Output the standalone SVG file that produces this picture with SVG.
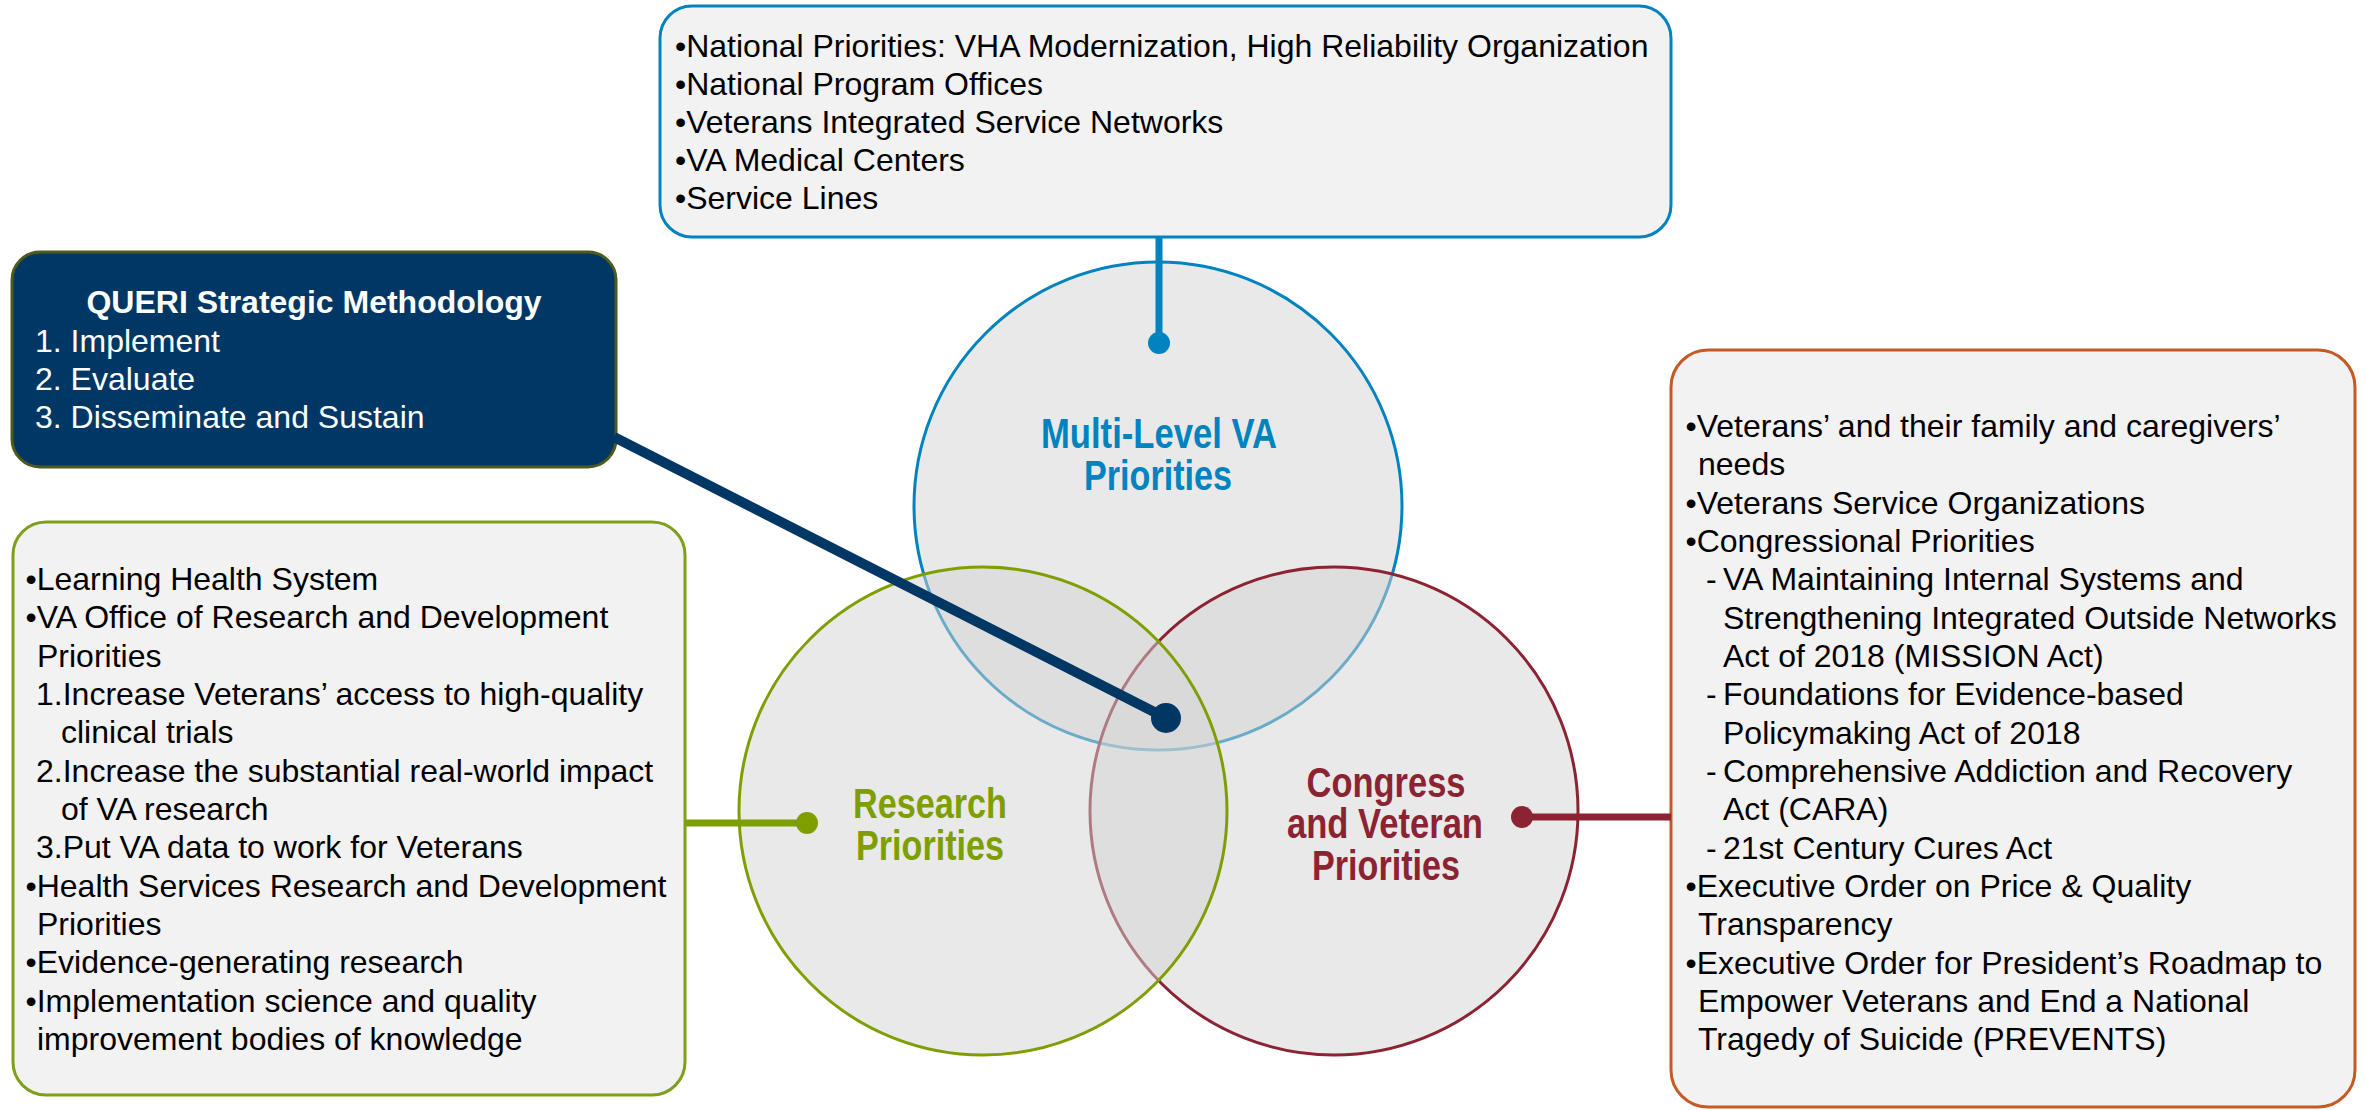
<svg xmlns="http://www.w3.org/2000/svg" width="2366" height="1110" viewBox="0 0 2366 1110">
<style>
.body{font-family:"Liberation Sans",Arial,sans-serif;font-size:32px;fill:#000}
.box{fill:#F2F2F2;stroke-width:3}
.circ{fill:#D4D4D4;fill-opacity:0.5;stroke-width:3}
.lbl{font-family:"Liberation Sans Narrow","Arial Narrow","Liberation Sans",Arial,sans-serif;font-weight:bold;font-size:42px;text-anchor:middle}
</style>
<rect width="2366" height="1110" fill="#FFFFFF"/>

<g id="node-national">
<rect class="box" x="660" y="6" width="1011" height="231" rx="32" ry="32" stroke="#0083BF"/>
<text class="body">
<tspan x="675" y="57">•National Priorities: VHA Modernization, High Reliability Organization</tspan>
<tspan x="675" y="95">•National Program Offices</tspan>
<tspan x="675" y="133">•Veterans Integrated Service Networks</tspan>
<tspan x="675" y="171">•VA Medical Centers</tspan>
<tspan x="675" y="209">•Service Lines</tspan>
</text>
</g>

<g id="node-queri">
<rect x="12" y="252" width="604" height="215" rx="28" ry="28" fill="#003764" stroke="#4F5B1B" stroke-width="3"/>
<text x="314" y="313" font-family="'Liberation Sans',Arial,sans-serif" font-size="32" font-weight="bold" fill="#FFFFFF" text-anchor="middle">QUERI Strategic Methodology</text>
<text class="body" style="fill:#FFFFFF">
<tspan x="35" y="352">1. Implement</tspan>
<tspan x="35" y="390">2. Evaluate</tspan>
<tspan x="35" y="428">3. Disseminate and Sustain</tspan>
</text>
</g>

<g id="node-research-box">
<rect class="box" x="13" y="522" width="672" height="573" rx="33" ry="33" stroke="#7F9F1A"/>
<text class="body">
<tspan x="25.5" y="590">•Learning Health System</tspan>
<tspan x="25.5" y="628.3">•VA Office of Research and Development</tspan>
<tspan x="37" y="666.7">Priorities</tspan>
<tspan x="36" y="705">1.Increase Veterans’ access to high-quality</tspan>
<tspan x="61" y="743.3">clinical trials</tspan>
<tspan x="36" y="781.7">2.Increase the substantial real-world impact</tspan>
<tspan x="61" y="820">of VA research</tspan>
<tspan x="36" y="858.3">3.Put VA data to work for Veterans</tspan>
<tspan x="25.5" y="896.7">•Health Services Research and Development</tspan>
<tspan x="37" y="935">Priorities</tspan>
<tspan x="25.5" y="973.3">•Evidence-generating research</tspan>
<tspan x="25.5" y="1011.7">•Implementation science and quality</tspan>
<tspan x="37" y="1050">improvement bodies of knowledge</tspan>
</text>
</g>

<g id="node-congress-box">
<rect class="box" x="1671" y="350" width="684" height="757" rx="37" ry="37" stroke="#C55A23"/>
<text class="body">
<tspan x="1685.5" y="437">•Veterans’ and their family and caregivers’</tspan>
<tspan x="1698" y="475.3">needs</tspan>
<tspan x="1685.5" y="513.7">•Veterans Service Organizations</tspan>
<tspan x="1685.5" y="552">•Congressional Priorities</tspan>
<tspan x="1706" y="590.3">-</tspan><tspan x="1723" y="590.3">VA Maintaining Internal Systems and</tspan>
<tspan x="1723" y="628.7">Strengthening Integrated Outside Networks</tspan>
<tspan x="1723" y="667">Act of 2018 (MISSION Act)</tspan>
<tspan x="1706" y="705.3">-</tspan><tspan x="1723" y="705.3">Foundations for Evidence-based</tspan>
<tspan x="1723" y="743.7">Policymaking Act of 2018</tspan>
<tspan x="1706" y="782">-</tspan><tspan x="1723" y="782">Comprehensive Addiction and Recovery</tspan>
<tspan x="1723" y="820.3">Act (CARA)</tspan>
<tspan x="1706" y="858.7">-</tspan><tspan x="1723" y="858.7">21st Century Cures Act</tspan>
<tspan x="1685.5" y="897">•Executive Order on Price &amp; Quality</tspan>
<tspan x="1698" y="935.3">Transparency</tspan>
<tspan x="1685.5" y="973.7">•Executive Order for President’s Roadmap to</tspan>
<tspan x="1698" y="1012">Empower Veterans and End a National</tspan>
<tspan x="1698" y="1050.3">Tragedy of Suicide (PREVENTS)</tspan>
</text>
</g>

<g id="node-multilevel">
<circle class="circ" cx="1158" cy="506" r="244" stroke="#0083BF"/>
</g>
<g id="node-congress">
<circle class="circ" cx="1334" cy="811" r="244" stroke="#8B2332"/>
</g>
<g id="node-research">
<circle class="circ" cx="983" cy="811" r="244" stroke="#7F9F00"/>
</g>

<g id="labels">
<text class="lbl" fill="#0083BF"><tspan x="1159" y="448" textLength="236" lengthAdjust="spacingAndGlyphs">Multi-Level VA</tspan><tspan x="1158" y="490" textLength="148" lengthAdjust="spacingAndGlyphs">Priorities</tspan></text>
<text class="lbl" fill="#7F9F00"><tspan x="930" y="818" textLength="154" lengthAdjust="spacingAndGlyphs">Research</tspan><tspan x="930" y="860" textLength="148" lengthAdjust="spacingAndGlyphs">Priorities</tspan></text>
<text class="lbl" fill="#8B2332"><tspan x="1386" y="797" textLength="159" lengthAdjust="spacingAndGlyphs">Congress</tspan><tspan x="1385" y="838" textLength="196" lengthAdjust="spacingAndGlyphs">and Veteran</tspan><tspan x="1386" y="880" textLength="148" lengthAdjust="spacingAndGlyphs">Priorities</tspan></text>
</g>

<g id="connectors">
<line x1="1159" y1="237" x2="1159" y2="343" stroke="#0083BF" stroke-width="7"/>
<circle cx="1159" cy="343" r="11" fill="#0083BF"/>
<line x1="614" y1="437" x2="1166" y2="718" stroke="#003764" stroke-width="10"/>
<circle cx="1166" cy="718" r="15" fill="#003764"/>
<line x1="685" y1="823" x2="807" y2="823" stroke="#7F9F00" stroke-width="7"/>
<circle cx="807" cy="823" r="11" fill="#7F9F00"/>
<line x1="1522" y1="817" x2="1671" y2="817" stroke="#8B2332" stroke-width="7"/>
<circle cx="1522" cy="817" r="11" fill="#8B2332"/>
</g>
</svg>
